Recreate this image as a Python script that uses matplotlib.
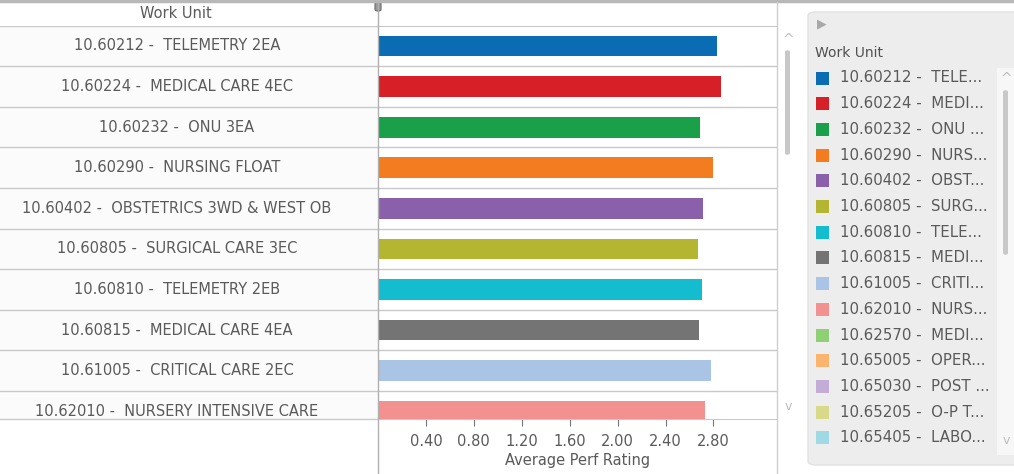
import numpy as np
import matplotlib.pyplot as plt
from matplotlib.patches import Rectangle, FancyBboxPatch
from matplotlib.lines import Line2D

# work units shown as bars (first 10 rows visible in the scroll window)
bar_labels = [
    "10.60212 -  TELEMETRY 2EA",
    "10.60224 -  MEDICAL CARE 4EC",
    "10.60232 -  ONU 3EA",
    "10.60290 -  NURSING FLOAT",
    "10.60402 -  OBSTETRICS 3WD & WEST OB",
    "10.60805 -  SURGICAL CARE 3EC",
    "10.60810 -  TELEMETRY 2EB",
    "10.60815 -  MEDICAL CARE 4EA",
    "10.61005 -  CRITICAL CARE 2EC",
    "10.62010 -  NURSERY INTENSIVE CARE",
]
ratings = [2.83, 2.86, 2.69, 2.80, 2.71, 2.67, 2.70, 2.68, 2.78, 2.73]

legend_labels = [
    "10.60212 -  TELE...", "10.60224 -  MEDI...", "10.60232 -  ONU ...",
    "10.60290 -  NURS...", "10.60402 -  OBST...", "10.60805 -  SURG...",
    "10.60810 -  TELE...", "10.60815 -  MEDI...", "10.61005 -  CRITI...",
    "10.62010 -  NURS...", "10.62570 -  MEDI...", "10.65005 -  OPER...",
    "10.65030 -  POST ...", "10.65205 -  O-P T...", "10.65405 -  LABO...",
]
colors = [
    "#0a6cb2", "#d61f26", "#19a049", "#f47c20", "#8b60aa",
    "#b4b632", "#14bccf", "#747474", "#aac4e6", "#f29190",
    "#8fcf76", "#fbb46e", "#c3add6", "#d9d98a", "#9ed9e4",
]
xticks = [0.40, 0.80, 1.20, 1.60, 2.00, 2.40, 2.80]

W, H = 1014, 474
TXT = "#5a5a5a"
LINE = "#c9c9c9"
FS = 10.5


def fx(px):
    return px / W


def fy(py):
    return 1 - py / H


fig = plt.figure(figsize=(W / 100, H / 100), dpi=100)
fig.patch.set_facecolor("white")

row_top, row_bot = 25.7, 419
ylim = (9.19, -0.5)
n = len(ratings)
y = np.arange(n)

# left label panel
axl = fig.add_axes([0, fy(row_bot), fx(378), (row_bot - row_top) / H])
axl.set_xlim(0, 1)
axl.set_ylim(*ylim)
axl.axis("off")
axl.add_patch(Rectangle((0, 0), 1, 1, transform=axl.transAxes, facecolor="#fbfbfc", edgecolor="none"))
for b in np.arange(-0.5, n, 1.0):
    axl.axhline(b, color=LINE, lw=1)
for i, lab in enumerate(bar_labels):
    axl.text(0.468, i, lab, ha="center", va="center", fontsize=FS, color=TXT)
fig.text(fx(176), fy(14), "Work Unit", ha="center", va="center", fontsize=FS, color=TXT)

# bar plot area
ax = fig.add_axes([fx(378), fy(row_bot), fx(777 - 378), (row_bot - row_top) / H])
ax.barh(y, ratings, height=0.51, color=colors[:n])
ax.set_xlim(0, 3.33)
ax.set_ylim(*ylim)
for b in np.arange(0.5, n, 1.0):
    ax.axhline(b, color=LINE, lw=1, zorder=0)
for s in ["left", "right"]:
    ax.spines[s].set_visible(False)
for s in ["top", "bottom"]:
    ax.spines[s].set_color(LINE)
ax.set_yticks([])
ax.set_xticks(xticks)
ax.set_xticklabels([f"{t:.2f}" for t in xticks])
ax.tick_params(axis="x", colors="#777777", labelcolor=TXT, labelsize=FS, length=5, pad=6)
ax.set_xlabel("Average Perf Rating", fontsize=FS, color=TXT, labelpad=3)

# frame lines
fig.add_artist(Line2D([0, 1], [fy(1), fy(1)], color="#b8b8b8", lw=2.5))
fig.add_artist(Line2D([0, fx(378)], [fy(row_bot), fy(row_bot)], color=LINE, lw=1))
fig.add_artist(Line2D([fx(378), fx(378)], [0, fy(2)], color="#b0b0b0", lw=1))
fig.add_artist(Line2D([fx(777), fx(777)], [0, fy(2)], color="#cfcfcf", lw=1))
fig.add_artist(FancyBboxPatch((fx(375), fy(11)), fx(6), 9 / H, boxstyle="round,pad=0,rounding_size=0.003",
                              transform=fig.transFigure, facecolor="#9a9a9a", edgecolor="#6a6a6a", lw=0.8))

# main scrollbar
fig.text(fx(788), fy(40), "^", ha="center", va="center", fontsize=10, color="#bdbdbd")
fig.add_artist(FancyBboxPatch((fx(785), fy(155)), fx(5), 105 / H, boxstyle="round,pad=0,rounding_size=0.004",
                              transform=fig.transFigure, facecolor="#c8c8c8", edgecolor="none"))
fig.text(fx(788), fy(406), "v", ha="center", va="center", fontsize=9, color="#bdbdbd")

# legend panel
fig.add_artist(FancyBboxPatch((fx(808), fy(465)), fx(230), (465 - 12) / H,
                              boxstyle="round,pad=0,rounding_size=0.008", transform=fig.transFigure,
                              facecolor="#ededed", edgecolor="#e2e2e2", lw=1))
fig.add_artist(Rectangle((fx(997), fy(455)), fx(20), (455 - 68) / H, transform=fig.transFigure,
                         facecolor="#f7f7f7", edgecolor="none"))
fig.text(fx(822), fy(24), "\u25B6", ha="center", va="center", fontsize=9, color="#a8a8a8")
fig.text(fx(815), fy(53), "Work Unit", ha="left", va="center", fontsize=FS - 0.5, color="#505050")
for i, (lab, c) in enumerate(zip(legend_labels, colors)):
    yy = 78 + 25.7 * i
    fig.add_artist(Rectangle((fx(816), fy(yy + 6.5)), fx(13), 13 / H, transform=fig.transFigure,
                             facecolor=c, edgecolor="none"))
    fig.text(fx(840), fy(yy), lab, ha="left", va="center", fontsize=FS + 0.3, color=TXT)
fig.text(fx(1006), fy(79), "^", ha="center", va="center", fontsize=10, color="#bdbdbd")
fig.add_artist(FancyBboxPatch((fx(1003), fy(255)), fx(5), 165 / H, boxstyle="round,pad=0,rounding_size=0.004",
                              transform=fig.transFigure, facecolor="#c8c8c8", edgecolor="none"))
fig.text(fx(1006), fy(441), "v", ha="center", va="center", fontsize=9, color="#bdbdbd")

fig.savefig("out.png", dpi=100)
